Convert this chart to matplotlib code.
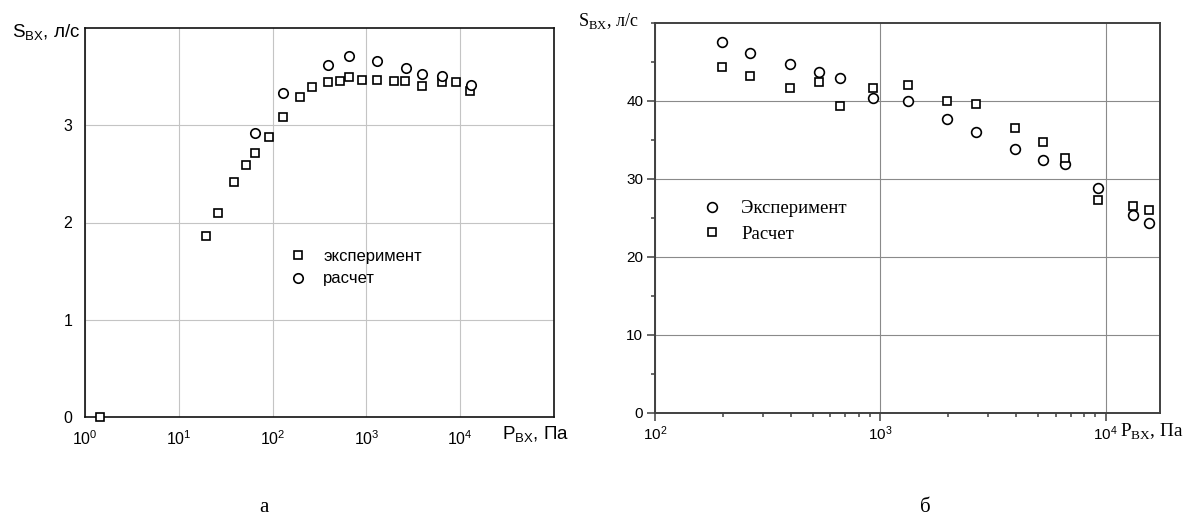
import matplotlib
matplotlib.use("Agg")
import matplotlib.pyplot as plt
from matplotlib.ticker import LogLocator, NullLocator, MultipleLocator, NullFormatter

# ---------------- data: panel "а" ----------------
a_exp_p = [1.45, 19.7, 26.4, 39, 51.9, 65.7, 91.3, 130, 196, 263, 389, 517, 654,
           908, 1309, 1955, 2593, 3910, 6460, 9040, 12790]
a_exp_s = [0.0, 1.866, 2.10, 2.42, 2.59, 2.71, 2.88, 3.08, 3.29, 3.39, 3.44, 3.46,
           3.50, 3.47, 3.47, 3.45, 3.46, 3.40, 3.44, 3.44, 3.355]
a_calc_p = [64.6, 130, 389, 654, 1309, 2640, 3910, 6460, 13030]
a_calc_s = [2.916, 3.33, 3.616, 3.715, 3.657, 3.59, 3.53, 3.506, 3.41]
a_xticks = [1, 10, 100, 1000, 10000]
a_yticks = [0, 1, 2, 3]

# ---------------- data: panel "б" ----------------
b_p = [198, 264, 397, 532, 663, 927, 1325, 1974, 2643, 3954, 5280, 6610, 9270,
       13190, 15590]
b_exp_s = [47.57, 46.2, 44.75, 43.7, 42.9, 40.4, 39.97, 37.7, 36.05, 33.9, 32.4,
           31.9, 28.9, 25.4, 24.3]
b_calc_s = [44.4, 43.2, 41.7, 42.45, 39.4, 41.7, 42.0, 40.06, 39.6, 36.6, 34.7,
            32.7, 27.3, 26.6, 26.0]
b_xticks = [100, 1000, 10000]
b_yticks = [0, 10, 20, 30, 40]

W, H = 1183, 516
fig = plt.figure(figsize=(W / 100, H / 100), dpi=100)
fig.patch.set_facecolor("white")

SANS = "Liberation Sans"
SERIF = "Liberation Serif"

def fx(px):
    return px / W

def fy(py):
    return 1 - py / H

# ---------------- left panel ----------------
axL = fig.add_axes([fx(85), fy(417), fx(554) - fx(85), fy(28) - fy(417)])
axL.set_xscale("log")
axL.set_xlim(1, 1e5)
axL.set_ylim(0, 4)
axL.set_xticks(a_xticks)
axL.set_yticks(a_yticks)
axL.xaxis.set_minor_locator(NullLocator())
axL.grid(True, color="#c4c4c4", lw=0.8)
axL.set_axisbelow(True)
axL.tick_params(length=0, labelsize=11.5, colors="black")
axL.tick_params(axis="y", pad=9)
axL.tick_params(axis="x", pad=9)
for lab in axL.get_xticklabels() + axL.get_yticklabels():
    lab.set_fontfamily(SANS)
for sp in axL.spines.values():
    sp.set_color("#111111")
    sp.set_linewidth(1.2)

axL.plot(a_exp_p, a_exp_s, ls="none", marker="s", ms=5.8, mfc="white", mec="black",
         mew=1.2, clip_on=False, label="эксперимент", zorder=3)
axL.plot(a_calc_p, a_calc_s, ls="none", marker="o", ms=6.8, mfc="white", mec="black",
         mew=1.2, clip_on=False, label="расчет", zorder=3)
legL = axL.legend(loc="upper left", bbox_to_anchor=(fx(290), fy(249)),
                  bbox_transform=fig.transFigure, frameon=False, borderpad=0,
                  borderaxespad=0, handlelength=1.0, handletextpad=1.0,
                  labelspacing=0.45, prop={"family": SANS, "size": 12})

# ---------------- right panel ----------------
axR = fig.add_axes([fx(655), fy(413), fx(1160) - fx(655), fy(23) - fy(413)])
axR.set_xscale("log")
axR.set_xlim(100, 17400)
axR.set_ylim(0, 50)
axR.set_xticks(b_xticks)
axR.xaxis.set_minor_locator(LogLocator(base=10, subs=range(2, 10), numticks=20))
axR.xaxis.set_minor_formatter(NullFormatter())
axR.set_yticks(b_yticks)
axR.yaxis.set_minor_locator(MultipleLocator(5))
axR.grid(True, which="major", color="#8a8a8a", lw=0.8)
axR.set_axisbelow(True)
axR.tick_params(which="major", direction="out", length=5.5, width=1.1,
                color="#404040", labelsize=11, pad=3)
axR.tick_params(which="minor", direction="out", length=3, width=1.1, color="#404040")
for lab in axR.get_xticklabels() + axR.get_yticklabels():
    lab.set_fontfamily(SANS)
for sp in axR.spines.values():
    sp.set_color("#404040")
    sp.set_linewidth(1.4)

axR.plot(b_p, b_exp_s, ls="none", marker="o", ms=7.0, mfc="white", mec="black",
         mew=1.2, clip_on=False, label="Эксперимент", zorder=3)
axR.plot(b_p, b_calc_s, ls="none", marker="s", ms=6.4, mfc="white", mec="black",
         mew=1.2, clip_on=False, label="Расчет", zorder=3)
legR = axR.legend(loc="upper left", bbox_to_anchor=(fx(703), fy(200)),
                  bbox_transform=fig.transFigure, frameon=False, borderpad=0,
                  borderaxespad=0, handlelength=1.0, handletextpad=1.05,
                  labelspacing=0.45, prop={"family": SERIF, "size": 13.5})

# ---------------- axis labels ----------------
fig.text(fx(12), fy(33), r"S$_{\mathregular{BX}}$, л/с", family=SANS, size=13.5,
         ha="left", va="center")
fig.text(fx(502), fy(435), r"P$_{\mathregular{BX}}$, Па", family=SANS, size=13.5,
         ha="left", va="center")
fig.text(fx(578), fy(21), r"S$_{\mathregular{BX}}$, л/с", family=SERIF, size=13,
         ha="left", va="center")
fig.text(fx(1120), fy(432), r"P$_{\mathregular{BX}}$, Па", family=SERIF, size=13.8,
         ha="left", va="center")

fig.text(fx(264), fy(507), "а", family=SERIF, size=15, ha="center", va="center")
fig.text(fx(925), fy(507), "б", family=SERIF, size=15, ha="center", va="center")

fig.savefig("out.png", dpi=100, facecolor="white")
